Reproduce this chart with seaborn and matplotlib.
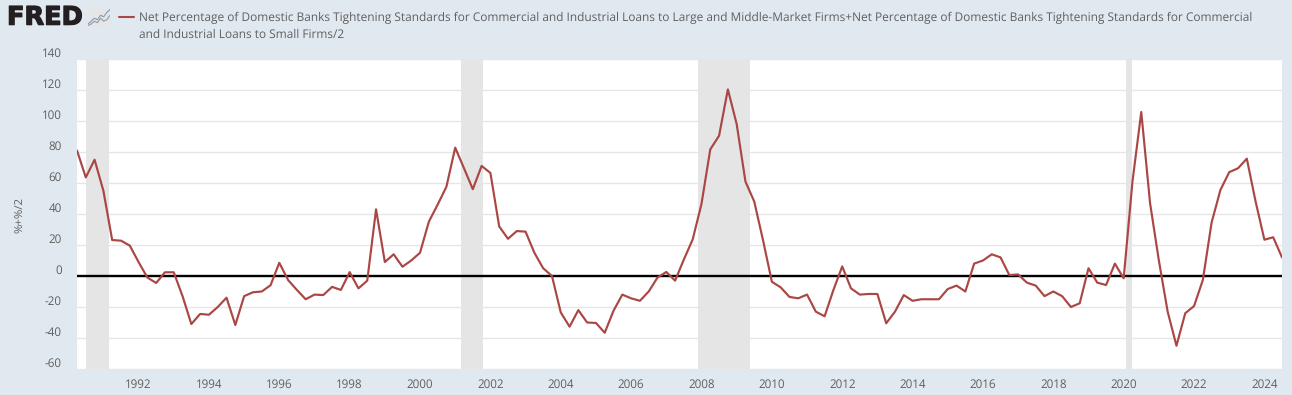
import matplotlib
matplotlib.use("Agg")
import matplotlib.pyplot as plt
import matplotlib.patheffects as pe
from matplotlib.lines import Line2D
from matplotlib.transforms import offset_copy
import numpy as np
import pandas as pd
import seaborn as sns

TITLE_1 = ("Net Percentage of Domestic Banks Tightening Standards for Commercial and Industrial Loans "
           "to Large and Middle-Market Firms+Net Percentage of Domestic Banks Tightening Standards for Commercial")
TITLE_2 = "and Industrial Loans to Small Firms/2"
Y_LABEL = "%+%/2"

START_YEAR = 1990.25
values = [
    81, 63.6, 75, 55, 23.2, 22.8, 19.6, 9, -1, -4.5, 2.4, 2.4, -13, -31, -24.5, -25, -20, -14, -31.6, -13,
    -10.5, -10, -6, 8.5, -2.6, -9, -15, -12, -12.3, -7, -9, 2.5, -8, -3, 43, 9, 14, 6, 10, 15,
    35, 46, 57.6, 82.8, 69.5, 56, 71, 66.5, 32, 24, 29, 28.6, 15, 5, 0, -23.5, -32.7, -22, -30, -30.3,
    -36.6, -22.4, -12, -14.4, -16, -10, -1, 2.6, -3, 10.7, 23.6, 46.5, 81.7, 90.5, 120.4, 98, 60.9, 48, 23, -3.7,
    -7.3, -13.5, -14.4, -12, -23, -26, -9, 6.2, -8, -12, -11.6, -11.6, -30.5, -23, -12.3, -16, -15, -15, -15, -8.4,
    -6.2, -10, 8, 10, 14, 12, 0.6, 1, -4.3, -6.2, -13, -10, -13, -20, -17.6, 5, -4.3, -5.8, 8, -1.5,
    61, 105.8, 47, 10, -23, -45, -24, -19.4, -2.6, 34.6, 55.5, 67, 69.5, 75.7, 48, 23.4, 25, 12,
]
years = START_YEAR + 0.25 * np.arange(len(values))
recession_starts = [1990.5, 2001.17, 2007.89, 2020.08]
recession_ends = [1991.17, 2001.79, 2009.39, 2020.25]
y_ticks = list(range(-60, 141, 20))
x_ticks = list(range(1992, 2025, 2))
icon_a = [1, 2, 3, 2.5, 4, 3.5, 5, 6]
icon_b = [0.5, 1, 2, 1.5, 3, 2, 2.5, 4]

BG = "#e1e9f0"
LINE = "#aa4643"
TXT = "#5f5f5f"

sns.set_theme(style="white")
plt.rcParams["font.family"] = ["Open Sans", "DejaVu Sans"]
plt.rcParams["text.hinting"] = "no_hinting"

W, H = 1292, 395
fig = plt.figure(figsize=(W / 100, H / 100), dpi=100, facecolor=BG)
ax = fig.add_axes([77 / W, 1 - 369 / H, (1282 - 77) / W, (369 - 59) / H])
ax.set_facecolor("white")

df = pd.DataFrame({"year": years, "value": values})

ax.set_xlim(START_YEAR, years[-1])
ax.set_ylim(-60, 140)
ax.set_yticks(y_ticks)
ax.set_xticks(x_ticks)
ax.grid(axis="y", color="#e6e6e6", lw=1.0, zorder=1)
ax.grid(axis="x", visible=False)
for s0, s1 in zip(recession_starts, recession_ends):
    ax.axvspan(s0, s1, color="#e5e5e5", lw=0, zorder=2)
ax.axhline(0, color="black", lw=1.7, zorder=3)
sns.lineplot(data=df, x="year", y="value", color=LINE, lw=1.55, ax=ax, zorder=4, errorbar=None)

for s in ax.spines.values():
    s.set_visible(False)
ax.set_xlabel("")
ax.set_ylabel("")
ax.tick_params(axis="x", length=4, width=0.8, color="#d3dde8", labelsize=8.4, labelcolor=TXT, pad=3)
ax.tick_params(axis="y", length=0, labelleft=False)
# y tick labels sit above their grid lines, FRED style
label_trans = offset_copy(ax.get_yaxis_transform(), fig=fig, x=-15 / 100 * 72, y=5 / 100 * 72, units="points")
for v in y_ticks:
    ax.text(0, v, str(v), transform=label_trans, ha="right", va="center", fontsize=8.4, color=TXT)

fig.text(20 / W, 1 - 215 / H, Y_LABEL, rotation=90, ha="center", va="center", fontsize=8.2, color=TXT)

# header: logo + legend
logo = fig.text(7 / W, 1 - 17.5 / H, "FRED", ha="left", va="center", fontsize=18.4, fontweight="bold",
                family="DejaVu Sans", color="#231f20")
logo.set_path_effects([pe.withStroke(linewidth=0.9, foreground="#231f20")])
icon = fig.add_axes([88 / W, 1 - 27 / H, 22 / W, 19 / H], facecolor="#e4e6e8")
sns.lineplot(x=range(8), y=icon_a, color="#7f9cc0", lw=0.8, ax=icon, errorbar=None)
sns.lineplot(x=range(8), y=icon_b, color="#9a9a9a", lw=0.8, ax=icon, errorbar=None)
icon.set_xlim(0, 7)
icon.set_ylim(0, 6.5)
icon.set_xlabel("")
icon.set_ylabel("")
icon.set_xticks([])
icon.set_yticks([])
for s in icon.spines.values():
    s.set_visible(False)

fig.add_artist(Line2D([119 / W, 134 / W], [1 - 17 / H, 1 - 17 / H], color=LINE, lw=1.5))
fig.text(139 / W, 1 - 17.5 / H, TITLE_1, ha="left", va="center", fontsize=8.58, color=TXT)
fig.text(139 / W, 1 - 34.5 / H, TITLE_2, ha="left", va="center", fontsize=8.58, color=TXT)

fig.savefig("out.png", dpi=100, facecolor=BG)
